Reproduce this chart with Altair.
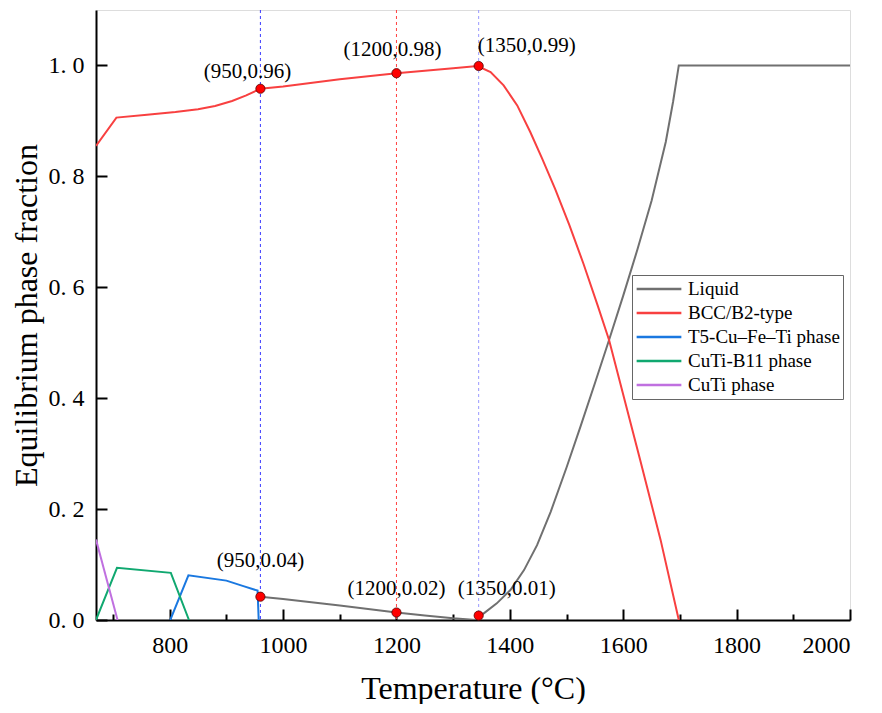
import altair as alt
import pandas as pd

FONT = "Liberation Serif"

# ---- data ----
series_names = ["Liquid", "BCC/B2-type", "T5-Cu\u2013Fe\u2013Ti phase", "CuTi-B11 phase", "CuTi phase"]
series_colors = ["#707070", "#f84040", "#1a78e0", "#10a870", "#c070e0"]

T_liq = [960, 1000, 1100, 1200, 1250, 1300, 1340, 1354, 1377, 1401, 1425, 1448, 1472, 1500, 1525,
         1550, 1575, 1600, 1625, 1650, 1675, 1688, 1698, 2000]
F_liq = [0.042, 0.038, 0.026, 0.0135, 0.008, 0.003, 0.0, 0.012, 0.030, 0.054, 0.090, 0.135, 0.195, 0.275, 0.350,
         0.427, 0.505, 0.585, 0.668, 0.756, 0.862, 0.935, 1.0, 1.0]

T_bcc = [670, 706, 760, 810, 850, 880, 910, 935, 960, 1000, 1100, 1200, 1300, 1343, 1366, 1389, 1413, 1436,
         1457, 1480, 1505, 1530, 1555, 1575, 1630, 1666, 1698]
F_bcc = [0.855, 0.906, 0.911, 0.916, 0.921, 0.927, 0.936, 0.946, 0.958, 0.962, 0.975, 0.986, 0.995, 0.999, 0.988,
         0.964, 0.928, 0.880, 0.832, 0.777, 0.712, 0.642, 0.567, 0.505, 0.288, 0.144, 0.0]

T_t5 = [801, 833, 900, 930, 955, 957]
F_t5 = [0.0, 0.0805, 0.071, 0.061, 0.053, 0.0]

T_b11 = [670, 707, 802, 834]
F_b11 = [0.0, 0.094, 0.085, 0.0]

T_cuti = [670, 708]
F_cuti = [0.145, 0.0]

T_pts = [960, 1200, 1345, 960, 1200, 1345]
F_pts = [0.958, 0.986, 0.999, 0.042, 0.0135, 0.008]
pt_labels = ["(950,0.96)", "(1200,0.98)", "(1350,0.99)", "(950,0.04)", "(1200,0.02)", "(1350,0.01)"]

T_vlines = [960, 1200, 1345]
vline_colors = ["#3a3aff", "#ff4040", "#9a9aff"]

x_major = [800, 1000, 1200, 1400, 1600, 1800, 2000]
x_minor = [700, 900, 1100, 1300, 1500, 1700, 1900]
y_major = [0.0, 0.2, 0.4, 0.6, 0.8, 1.0]

# label offsets (style)
lab_dx = [-13, -4, 48, 0, 0, 28]
lab_dy = [-17, -23, -20, -36, -24, -27]

W, H = 754, 610
X0, X1, Y1 = 670, 2000, 1.1

# ---- build tables ----
rows = []
for name, T, F in zip(series_names,
                      [T_liq, T_bcc, T_t5, T_b11, T_cuti],
                      [F_liq, F_bcc, F_t5, F_b11, F_cuti]):
    for i, (t, f) in enumerate(zip(T, F)):
        rows.append({"series": name, "T": t, "F": f, "order": i})
lines_df = pd.DataFrame(rows)
pts_df = pd.DataFrame({"T": T_pts, "F": F_pts, "label": pt_labels})

xs = alt.Scale(domain=[X0, X1], nice=False, zero=False)
ys = alt.Scale(domain=[0, Y1], nice=False)

x_axis = alt.Axis(
    title="Temperature (\u00b0C)", values=x_major, format="d", ticks=False, grid=False,
    labelPadding=13, titlePadding=16, labelFontSize=24, titleFontSize=32,
    labelFont=FONT, titleFont=FONT, titleFontWeight="normal",
    domainColor="black", domainWidth=2, labelColor="black", titleColor="black")
y_axis = alt.Axis(
    title="Equilibrium phase fraction", values=y_major, ticks=False, grid=False,
    labelExpr="replace(format(datum.value, '.1f'), '.', '. ')",
    labelPadding=12, titlePadding=5, labelFontSize=24, titleFontSize=32,
    labelFont=FONT, titleFont=FONT, titleFontWeight="normal",
    domainColor="black", domainWidth=2, labelColor="black", titleColor="black")


# tick-only axes placed on the opposite side and shifted across the plot,
# so that their ticks point inward from the bottom / left edges
def tick_axis(orient, values, size, shift):
    return alt.Axis(orient=orient, offset=-shift, values=values, tickSize=size, tickWidth=2,
                    tickColor="black", ticks=True, labels=False, domain=False, grid=False,
                    title=None)


vlayers = []
for t, c in zip(T_vlines, vline_colors):
    vlayers.append(
        alt.Chart(pd.DataFrame({"T": [t]})).mark_rule(
            color=c, strokeDash=[3, 3], strokeWidth=1
        ).encode(x=alt.X("T:Q", scale=xs, axis=None))
    )

lines = alt.Chart(lines_df).mark_line(strokeWidth=2, clip=True).encode(
    x=alt.X("T:Q", scale=xs, axis=x_axis),
    y=alt.Y("F:Q", scale=ys, axis=y_axis),
    color=alt.Color("series:N",
                    scale=alt.Scale(domain=series_names, range=series_colors),
                    sort=series_names,
                    legend=alt.Legend(title=None, orient="none", legendX=536, legendY=265,
                                      symbolType="stroke", symbolSize=2000, symbolStrokeWidth=2.5,
                                      labelFont=FONT, labelFontSize=19, labelColor="black",
                                      strokeColor="#666666", fillColor="white", padding=3,
                                      clipHeight=22, rowPadding=2, labelOffset=5)),
    order="order:Q",
)

pts = alt.Chart(pts_df).mark_point(
    filled=True, fill="#ff0000", stroke="#550000", strokeWidth=0.8, size=85, opacity=1
).encode(
    x=alt.X("T:Q", scale=xs, axis=tick_axis("top", x_major, 11, H)),
    y=alt.Y("F:Q", scale=ys, axis=tick_axis("right", y_major, 11, W)),
)

txt_layers = []
for i in range(len(pt_labels)):
    if i == 0:
        xa = alt.X("T:Q", scale=xs, axis=tick_axis("top", x_minor, 6, H))
    else:
        xa = alt.X("T:Q", scale=xs, axis=None)
    txt_layers.append(
        alt.Chart(pts_df.iloc[[i]]).mark_text(
            font=FONT, fontSize=21, color="black", dx=lab_dx[i], dy=lab_dy[i]
        ).encode(x=xa, y=alt.Y("F:Q", scale=ys, axis=None), text="label:N")
    )

chart = alt.layer(
    *vlayers, lines, pts, *txt_layers
).resolve_axis(
    x="independent", y="independent"
).properties(
    width=W, height=H,
    autosize=alt.AutoSizeParams(type="none"),
    padding={"left": 88, "top": 2, "right": 24, "bottom": 84},
).configure_view(
    stroke="black", strokeWidth=2
).configure(background="white")

chart.save("out.html", embed_options={"renderer": "svg", "actions": False})
